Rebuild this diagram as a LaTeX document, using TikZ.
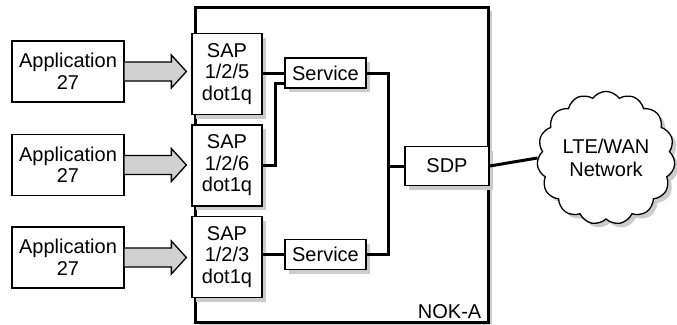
\documentclass[tikz,border=0pt]{standalone}
\usepackage{fontspec}
\setmainfont{Liberation Sans}
\usetikzlibrary{shapes.symbols,shadows,calc}

\tikzset{
  shade/.style={drop shadow={shadow xshift=4pt, shadow yshift=-4pt, fill=black!20, opacity=1}},
  app/.style={draw=black, line width=1.3pt, fill=white, align=center, inner sep=0pt,
    minimum width=112pt, minimum height=61pt, font=\fontsize{20}{21.5}\selectfont},
  sap/.style={app, shade, minimum width=70pt, minimum height=81pt},
  svc/.style={app, shade, minimum width=81pt, minimum height=30pt},
  link/.style={line width=3pt, black},
  fat/.style={draw=black, line width=1.3pt, fill=black!18, line join=miter},
}

\begin{document}
\begin{tikzpicture}[x=1pt, y=-1pt]
  \useasboundingbox (0,0) rectangle (677,324);

  % NOK-A chassis
  \node[draw=black, line width=3pt, fill=white, shade, minimum width=293pt, minimum height=315pt] (nok) at (341.5,164.5) {};
  \node[anchor=south east, inner sep=0pt, font=\fontsize{20}{22}\selectfont] (noklbl) at ([xshift=-8pt, yshift=5pt]nok.south east) {NOK-A};

  % Applications
  \node[app] (app1) at (68,71.5) {Application\\27};
  \node[app] (app2) at (68,165) {Application\\27};
  \node[app] (app3) at (68,257.5) {Application\\27};

  % SAPs
  \node[sap] (sap1) at (227,74) {SAP\\1/2/5\\dot1q};
  \node[sap] (sap2) at (227,165.5) {SAP\\1/2/6\\dot1q};
  \node[sap] (sap3) at (227,257) {SAP\\1/2/3\\dot1q};

  % Services and SDP
  \node[svc] (svc1) at (325.5,73) {Service};
  \node[svc] (svc2) at (325.5,254.5) {Service};
  \node[svc, minimum width=84pt, minimum height=39pt] (sdp) at (447,166) {SDP};

  % Network
  \node[cloud, cloud puffs=15, cloud puff arc=110, draw=black, line width=1.3pt, fill=white, shade,
    minimum width=138pt, minimum height=117pt, align=center, inner sep=0pt,
    font=\fontsize{20}{23}\selectfont] (wan) at (606,158) {LTE/WAN\\Network};

  % fat arrows
  \foreach \i in {1,2,3} {
    \draw[fat] ($(app\i.east)+(0,-9.5)$) -- ($(app\i.east -| sap\i.west)+(-20,-9.5)$)
      -- ($(app\i.east -| sap\i.west)+(-20,-16.5)$) -- ($(app\i.east -| sap\i.west)+(-5,0)$)
      -- ($(app\i.east -| sap\i.west)+(-20,16.5)$) -- ($(app\i.east -| sap\i.west)+(-20,9.5)$)
      -- ($(app\i.east)+(0,9.5)$);
  }

  % links
  \coordinate (bus) at (388,166);
  \draw[link] (sap1.east |- svc1.west) -- (svc1.west);
  \draw[link] (sap2.east) -- ++(13,0) |- ([yshift=-10pt]svc1.west);
  \draw[link] (sap3.east |- svc2.west) -- (svc2.west);
  \draw[link] (svc1.east) -| (bus);
  \draw[link] (svc2.east) -| (bus);
  \draw[link] (bus) -- (sdp.west);
  \draw[link] (sdp.east) -- (wan.west);

\end{tikzpicture}
\end{document}
